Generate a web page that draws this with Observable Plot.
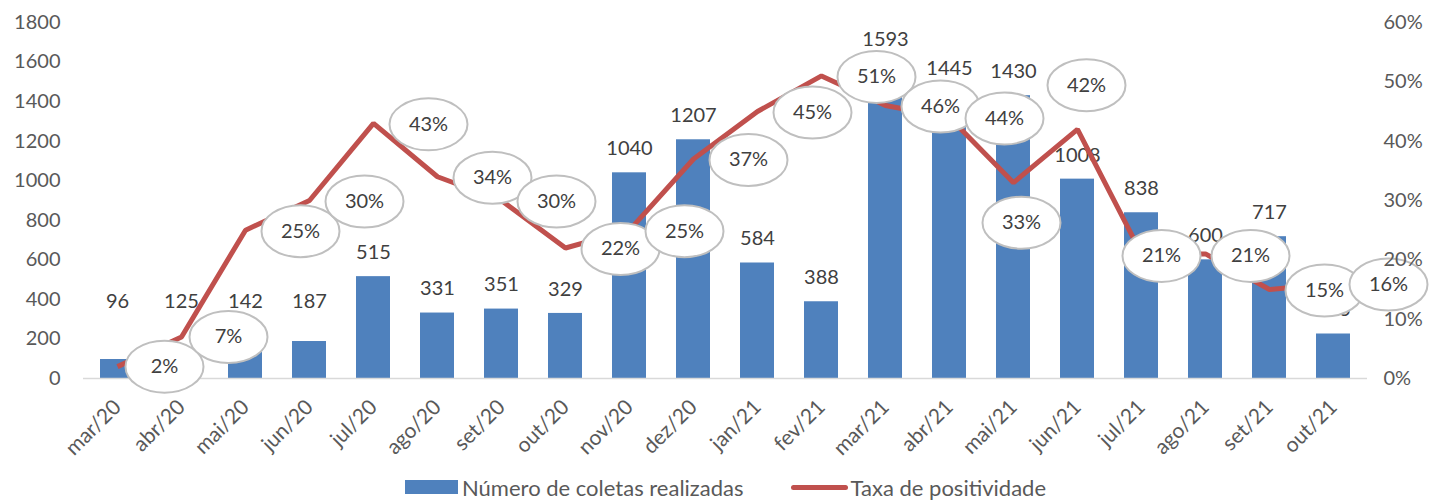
<!DOCTYPE html>
<html>
<head>
<meta charset="utf-8">
<script src="https://cdn.jsdelivr.net/npm/d3@7"></script>
<script src="https://cdn.jsdelivr.net/npm/@observablehq/plot@0.6"></script>
<style>
  body { margin: 0; background: #fff; font-family: Lato, "Open Sans", sans-serif; }
  #legend { display: flex; align-items: center; height: 34px; padding-left: 405px; color: #595959; font-size: 22px; }
  .sw-bar { width: 53px; height: 14px; background: #4f81bd; margin-right: 4px; }
  .sw-line { width: 57px; height: 5px; background: #c0504d; border-radius: 3px; margin-left: 47px; margin-right: 3px; }
</style>
</head>
<body>
<div id="chart"></div>
<div id="legend">
  <div class="sw-bar"></div><span>Número de coletas realizadas</span>
  <div class="sw-line"></div><span>Taxa de positividade</span>
</div>
<script>
// ---- data ----
const months = ["mar/20","abr/20","mai/20","jun/20","jul/20","ago/20","set/20","out/20","nov/20","dez/20",
                "jan/21","fev/21","mar/21","abr/21","mai/21","jun/21","jul/21","ago/21","set/21","out/21"];
const collections = [96,125,142,187,515,331,351,329,1040,1207,584,388,1593,1445,1430,1008,838,600,717,225];
const positivity = [2,7,25,30,43,34,30,22,25,37,45,51,46,44,33,42,21,21,15,16]; // percent
const leftTicks = [0,200,400,600,800,1000,1200,1400,1600,1800];
const rightTicks = [0,10,20,30,40,50,60]; // percent

const rows = months.map((m, i) => ({month: m, n: collections[i], rate: positivity[i]}));
const k = 1800 / 60; // right axis percent -> left axis units

// ellipse symbol for callout labels
const ellipse = {
  draw(ctx) {
    const rx = 39, ry = 26, c = 0.5523;
    ctx.moveTo(rx, 0);
    ctx.bezierCurveTo(rx, ry * c, rx * c, ry, 0, ry);
    ctx.bezierCurveTo(-rx * c, ry, -rx, ry * c, -rx, 0);
    ctx.bezierCurveTo(-rx, -ry * c, -rx * c, -ry, 0, -ry);
    ctx.bezierCurveTo(rx * c, -ry, rx, -ry * c, rx, 0);
    ctx.closePath();
  }
};

function callout(list, dx, dy) {
  const f = d => list.includes(d.month);
  return [
    Plot.dot(rows, {filter: f, x: "month", y: d => d.rate * k, symbol: ellipse, r: 10, dx, dy,
      fill: "white", stroke: "#bfbfbf", strokeWidth: 2}),
    Plot.text(rows, {filter: f, x: "month", y: d => d.rate * k, text: d => d.rate + "%", dx, dy,
      fill: "#404040", fontSize: 20})
  ];
}

const chart = Plot.plot({
  width: 1435,
  height: 470,
  marginTop: 22,
  marginBottom: 92,
  marginLeft: 83,
  marginRight: 68,
  style: {fontFamily: "Lato, 'Open Sans', sans-serif", fontSize: "20px", color: "#595959", background: "white"},
  x: {domain: months, paddingInner: 0.47, paddingOuter: 0.235, label: null},
  y: {domain: [0, 1800], label: null},
  marks: [
    Plot.barY(rows, {x: "month", y: "n", fill: "#4f81bd"}),
    Plot.ruleY([0], {stroke: "#d9d9d9", strokeWidth: 1.5}),
    Plot.text(rows, {x: "month", y: d => (d.n < 200 ? 265 : d.n), text: d => String(d.n), dy: -24,
      fill: "#404040", fontSize: 20}),
    Plot.line(rows, {x: "month", y: d => d.rate * k, stroke: "#c0504d", strokeWidth: 5,
      strokeLinejoin: "miter", strokeLinecap: "butt"}),
    ...callout(["mar/20","abr/20"], 47, 0),
    ...callout(["mai/20","jun/20","jul/20","ago/20","set/20","out/20","nov/20","dez/20","jan/21","fev/21",
                "mar/21","abr/21","set/21","out/21"], 55, 1),
    ...callout(["jul/21"], 20, 2),
    ...callout(["ago/21"], 45, 2),
    ...callout(["mai/21"], 8, 40),
    ...callout(["jun/21"], 9, -44),
    Plot.axisY(leftTicks, {anchor: "left", tickSize: 0, tickPadding: 23, label: null, tickFormat: d => String(d),
      fill: "#595959", fontSize: 20}),
    Plot.axisY(rightTicks.map(p => p * k), {anchor: "right", tickSize: 0, tickPadding: 16, label: null,
      tickFormat: v => Math.round(v / k) + "%", fill: "#595959", fontSize: 20}),
    Plot.axisX({tickRotate: -45, tickSize: 0, tickPadding: 25, label: null, fill: "#595959", fontSize: 21})
  ]
});
document.getElementById("chart").appendChild(chart);
</script>
</body>
</html>
